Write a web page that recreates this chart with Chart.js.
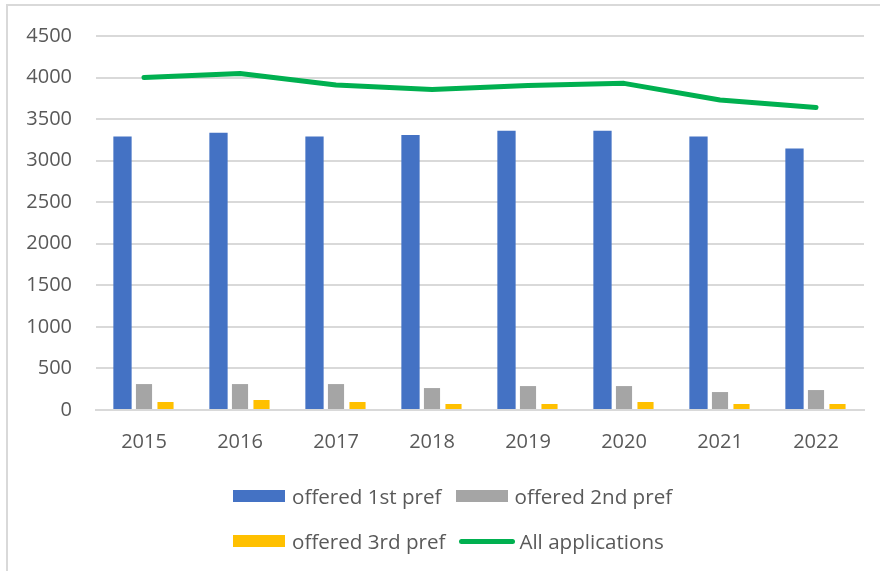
<!DOCTYPE html>
<html>
<head>
<meta charset="utf-8">
<script src="https://cdn.jsdelivr.net/npm/chart.js@4/dist/chart.umd.min.js"></script>
<style>
  html, body { margin: 0; padding: 0; background: #fff; overflow: hidden; }
  #wrap { position: relative; width: 880px; height: 571px; overflow: hidden; }
  #frame { position: absolute; left: 6px; top: 4px; width: 900px; height: 600px; border: 2px solid #d9d9d9; box-sizing: border-box; }
  #chartBox { position: absolute; left: 0; top: 0; width: 880px; height: 571px; }
  #legend { position: absolute; left: 233px; top: 484px; width: 470px; display: flex; flex-wrap: wrap; column-gap: 14px; row-gap: 21px;
            font-family: "Open Sans", sans-serif; font-size: 20.6px; line-height: 24px; color: #595959; }
  .item { display: flex; align-items: center; white-space: nowrap; }
  .sw { width: 52px; height: 12px; margin-right: 7px; }
  .sw.line { width: 56px; height: 5px; border-radius: 3px; margin-right: 4px; }
</style>
</head>
<body>
<div id="wrap">
  <div id="frame"></div>
  <div id="chartBox"><canvas id="chart"></canvas></div>
  <div id="legend"></div>
</div>
<script>
// datos
const years = ['2015', '2016', '2017', '2018', '2019', '2020', '2021', '2022'];
const offered1st = [3290, 3335, 3290, 3310, 3360, 3360, 3290, 3145];
const offered2nd = [312, 312, 312, 264, 288, 288, 216, 240];
const offered3rd = [96, 120, 96, 72, 72, 96, 72, 72];
const allApplications = [4000, 4050, 3910, 3855, 3905, 3930, 3730, 3640];
const yTicks = [0, 500, 1000, 1500, 2000, 2500, 3000, 3500, 4000, 4500];

const textColor = '#595959';
const gridColor = '#d9d9d9';
const font = { family: '"Open Sans", sans-serif', size: 20 };

const ctx = document.getElementById('chart').getContext('2d');

const chart = new Chart(ctx, {
    type: 'bar',
    data: {
        labels: years,
        datasets: [
            { type: 'bar', label: 'offered 1st pref', data: offered1st, backgroundColor: '#4472c4', barPercentage: 0.85, categoryPercentage: 0.672, order: 2 },
            { type: 'bar', label: 'offered 2nd pref', data: offered2nd, backgroundColor: '#a5a5a5', barPercentage: 0.75, categoryPercentage: 0.672, order: 2 },
            { type: 'bar', label: 'offered 3rd pref', data: offered3rd, backgroundColor: '#ffc000', barPercentage: 0.75, categoryPercentage: 0.672, order: 2 },
            {
                type: 'line',
                label: 'All applications',
                data: allApplications,
                borderColor: '#00b050',
                backgroundColor: '#00b050',
                borderWidth: 5,
                borderCapStyle: 'round',
                borderJoinStyle: 'round',
                pointRadius: 0,
                tension: 0,
                order: 1
            }
        ]
    },
    options: {
        responsive: true,
        maintainAspectRatio: false,
        animation: false,
        layout: { padding: { left: 0, right: 16, top: 35, bottom: 101 } },
        plugins: {
            legend: { display: false },
            tooltip: { enabled: false }
        },
        scales: {
            x: {
                grid: { display: false, drawTicks: false },
                border: { display: true, color: gridColor, width: 2 },
                ticks: { color: textColor, font: font, padding: 20, maxRotation: 0 },
                afterFit: s => { s.height = 60; }
            },
            y: {
                min: 0,
                max: 4500,
                afterBuildTicks: s => { s.ticks = yTicks.map(v => ({ value: v })); },
                grid: { color: gridColor, lineWidth: 2, drawTicks: false },
                border: { display: false },
                ticks: { color: textColor, font: font, padding: 24, callback: v => String(v) },
                afterFit: s => { s.width = 96; }
            }
        }
    }
});

// leyenda en HTML (dos filas como el original)
const legendEl = document.getElementById('legend');
chart.data.datasets.forEach(ds => {
    const item = document.createElement('div');
    item.className = 'item';
    const sw = document.createElement('span');
    sw.className = ds.type === 'line' ? 'sw line' : 'sw';
    sw.style.background = ds.type === 'line' ? ds.borderColor : ds.backgroundColor;
    const txt = document.createElement('span');
    txt.textContent = ds.label;
    item.appendChild(sw);
    item.appendChild(txt);
    legendEl.appendChild(item);
});
</script>
</body>
</html>
